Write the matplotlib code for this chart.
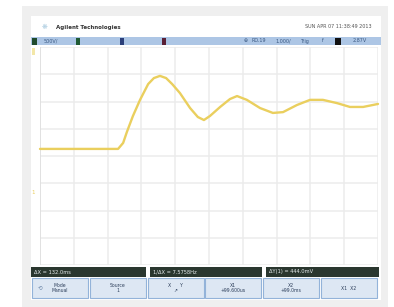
import matplotlib.pyplot as plt
from matplotlib.patches import Rectangle

# trace, in scope divisions (x: 0..10, y: 0..8)
time_div = [0.00, 1.18, 2.31, 2.46, 2.57, 2.75, 2.96, 3.20, 3.37, 3.55,
            3.73, 3.91, 4.14, 4.44, 4.67, 4.85, 5.03, 5.33, 5.62, 5.83,
            6.12, 6.51, 6.89, 7.19, 7.60, 7.99, 8.37, 8.79, 9.17, 9.56, 10.0]
volt_div = [4.26, 4.26, 4.26, 4.48, 4.88, 5.47, 6.06, 6.64, 6.86, 6.94,
            6.86, 6.64, 6.31, 5.76, 5.43, 5.32, 5.47, 5.80, 6.09, 6.20,
            6.06, 5.76, 5.58, 5.61, 5.87, 6.06, 6.06, 5.94, 5.80, 5.80, 5.91]

meas_labels = ["ΔX = 132.0ms", "1/ΔX = 7.5758Hz", "ΔY(1) = 444.0mV"]
softkey_labels = ["Mode\nManual", "Source\n1", "X      Y\n↗", "X1\n+99.600us",
                  "X2\n+99.0ms", "X1  X2"]

TRACE = "#eacf5e"
BLUE_BAR = "#adc6e5"
DARK_BAR = "#2a372f"
KEY_FACE = "#dde7f3"
KEY_EDGE = "#93b3d9"
BAR_TEXT = "#3a5882"

fig = plt.figure(figsize=(3.94, 3.07), dpi=100)
fig.patch.set_facecolor("white")

# frame / decorations in pixel coordinates
bg = fig.add_axes([0, 0, 1, 1])
bg.set_xlim(0, 394)
bg.set_ylim(307, 0)
bg.axis("off")

bg.add_patch(Rectangle((22, 6), 366, 301, color="#efefef", lw=0))
bg.add_patch(Rectangle((31, 16), 350, 284, color="white", lw=0))

# header
bg.text(42, 27, "❋", fontsize=5, color="#a8cadf", va="center")
bg.text(56, 27, "Agilent Technologies", fontsize=4.0, fontweight="bold",
        color="#333333", va="center")
bg.text(372, 27, "SUN APR 07 11:38:49 2013", fontsize=3.5,
        color="#555555", va="center", ha="right")

# status bar
bg.add_patch(Rectangle((31, 37), 350, 8, color=BLUE_BAR, lw=0))
bg.add_patch(Rectangle((32, 37.5), 5, 7, color="#1f4a2c", lw=0))
bg.text(44, 41, "500V/", fontsize=3.5, color=BAR_TEXT, va="center")
bg.add_patch(Rectangle((76, 37.5), 4, 7, color="#1f5a33", lw=0))
bg.add_patch(Rectangle((120, 37.5), 4, 7, color="#2b3f7a", lw=0))
bg.add_patch(Rectangle((162, 37.5), 4, 7, color="#5a2036", lw=0))
bg.text(244, 41, "⊕", fontsize=3.5, color=BAR_TEXT, va="center")
bg.text(252, 41, "RO.19", fontsize=3.5, color=BAR_TEXT, va="center")
bg.text(275, 41, "1.000/", fontsize=3.5, color=BAR_TEXT, va="center")
bg.text(300, 41, "Trig", fontsize=3.5, color=BAR_TEXT, va="center")
bg.text(322, 41, "f", fontsize=3.5, color=BAR_TEXT, va="center")
bg.add_patch(Rectangle((335, 37.5), 6, 7, color="#111111", lw=0))
bg.text(353, 41, "2.87V", fontsize=3.5, color=BAR_TEXT, va="center")

# channel markers on the left edge
bg.add_patch(Rectangle((32, 48), 3, 7, color="#f3e7a8", lw=0))
bg.text(33.5, 193, "1", fontsize=4, color=TRACE, ha="center", va="center")

# measurement bar
seg_x = [(31, 146), (150, 262), (266, 379)]
for (x0, x1), lab in zip(seg_x, meas_labels):
    bg.add_patch(Rectangle((x0, 267), x1 - x0, 10, color=DARK_BAR, lw=0))
    bg.text(x0 + 3, 272, lab, fontsize=3.7, color="#e8eef0", va="center")

# softkeys
for i, lab in enumerate(softkey_labels):
    x0 = 32 + i * 57.8
    bg.add_patch(Rectangle((x0, 278), 56, 20, facecolor=KEY_FACE,
                           edgecolor=KEY_EDGE, lw=0.8))
    bg.text(x0 + 28, 288, lab, fontsize=3.3, color="#2c3e5a",
            ha="center", va="center", linespacing=1.1)
bg.text(38, 288, "⟲", fontsize=4, color="#6b86a8", va="center")

# scope graticule + trace
ax = fig.add_axes([40 / 394, (307 - 265) / 307, 338 / 394, 218 / 307])
ax.patch.set_alpha(0)
ax.set_xlim(0, 10)
ax.set_ylim(0, 8)
ax.set_xticks(range(11))
ax.set_yticks(range(9))
ax.grid(True, color="#ececec", lw=1.1)
ax.tick_params(length=0, labelbottom=False, labelleft=False)
for s in ax.spines.values():
    s.set_visible(False)
ax.axvline(0, color="#dedede", lw=1.2)

ax.plot(time_div, volt_div, color=TRACE, lw=1.7, solid_joinstyle="round",
        solid_capstyle="round", clip_on=False)

fig.savefig("out.png", dpi=100)
